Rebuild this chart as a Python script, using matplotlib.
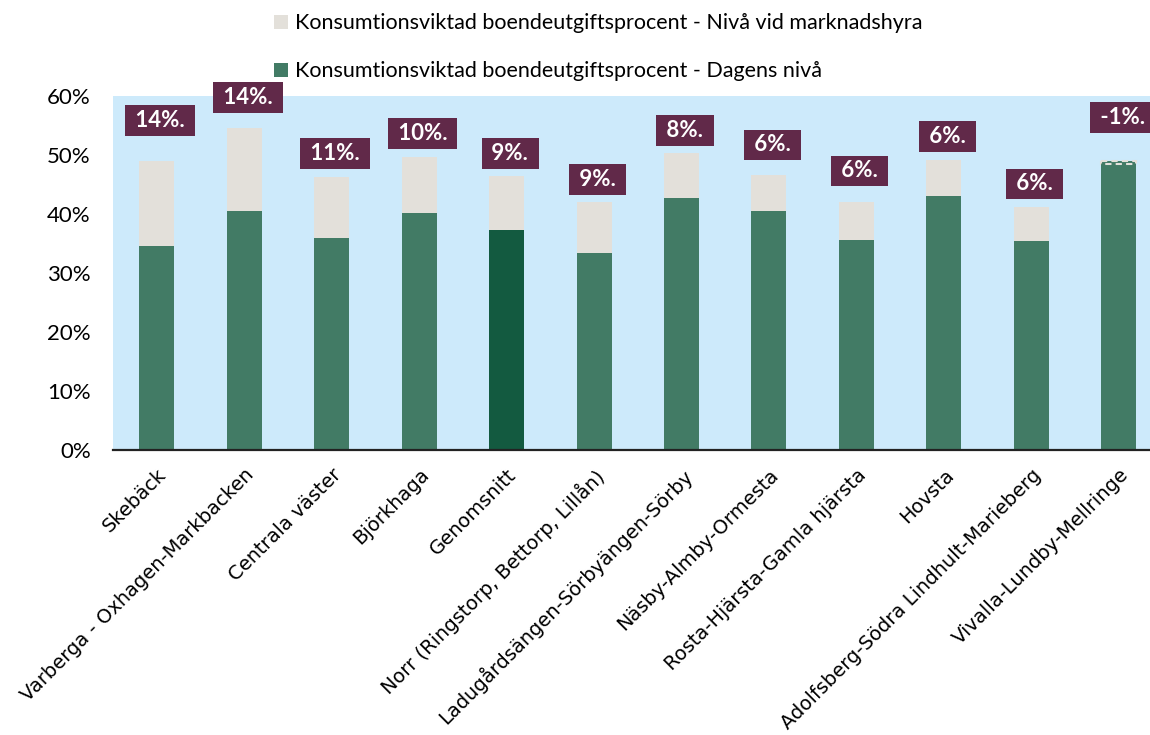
import matplotlib
matplotlib.use("Agg")
import matplotlib.pyplot as plt
from matplotlib.patches import Patch
import numpy as np

categories = ["Skebäck", "Varberga - Oxhagen-Markbacken", "Centrala väster", "Björkhaga",
              "Genomsnitt", "Norr (Ringstorp, Bettorp, Lillån)", "Ladugårdsängen-Sörbyängen-Sörby",
              "Näsby-Almby-Ormesta", "Rosta-Hjärsta-Gamla hjärsta", "Hovsta",
              "Adolfsberg-Södra Lindhult-Marieberg", "Vivalla-Lundby-Mellringe"]
current = [34.6, 40.5, 35.9, 40.2, 37.3, 33.4, 42.7, 40.5, 35.6, 43.1, 35.5, 48.9]
market = [48.9, 54.6, 46.3, 49.7, 46.4, 42.0, 50.4, 46.6, 42.1, 49.2, 41.2, 48.4]
diff_labels = ["14%.", "14%.", "11%.", "10%.", "9%.", "9%.", "8%.", "6%.", "6%.", "6%.", "6%.", "-1%."]
label_pos = [55.8, 59.7, 50.2, 53.6, 50.3, 45.9, 54.2, 51.7, 47.3, 53.1, 45.1, 56.4]
yticks = [0, 10, 20, 30, 40, 50, 60]
legend_labels = ["Konsumtionsviktad boendeutgiftsprocent - Nivå vid marknadshyra",
                 "Konsumtionsviktad boendeutgiftsprocent - Dagens nivå"]

GREEN = "#427B65"
DARK_GREEN = "#135A40"
BEIGE = "#E3E0DA"
PURPLE = "#612949"
BG = "#CDEAFB"

fig = plt.figure(figsize=(11.5, 7.35), dpi=100)
ax = fig.add_axes([113/1150, (735-450)/735, (1162.5-113)/1150, (450-96)/735])
ax.set_facecolor(BG)

x = np.arange(len(categories))
w = 0.4
cur = np.array(current)
mkt = np.array(market)
diff = mkt - cur

colors = [DARK_GREEN if c == "Genomsnitt" else GREEN for c in categories]
ax.bar(x, cur, width=w, color=colors, edgecolor="none", zorder=2)
for i in range(len(x)):
    if diff[i] >= 0:
        ax.bar(x[i], diff[i], bottom=cur[i], width=w, color=BEIGE, edgecolor="none", zorder=2)
    else:
        ax.bar(x[i], diff[i], bottom=cur[i], width=w, color=GREEN, edgecolor=BEIGE,
               linestyle=(0, (3, 2)), linewidth=1.5, zorder=3)

for i in range(len(x)):
    ax.text(x[i] + 0.04, label_pos[i], " " + diff_labels[i] + " ", ha="center", va="center",
            color="white", fontsize=16, fontweight="bold", family="Lato",
            bbox=dict(boxstyle="square,pad=0.22", facecolor=PURPLE, edgecolor="none"),
            zorder=5, clip_on=False)

ax.set_xlim(-0.5, len(x) - 0.5)
ax.set_ylim(0, 60)
ax.set_yticks(yticks)
ax.set_yticklabels([f"{t}%" for t in yticks])
for lbl in ax.get_yticklabels():
    lbl.set_fontfamily("Lato")
    lbl.set_fontsize(16)
ax.set_xticks(x)
ax.set_xticklabels(categories, rotation=45, ha="right", rotation_mode="anchor")
for lbl in ax.get_xticklabels():
    lbl.set_fontfamily("DejaVu Sans")
    lbl.set_fontsize(14)
ax.tick_params(axis="both", length=0)
ax.tick_params(axis="y", pad=16)
ax.tick_params(axis="x", pad=11)
for s in ["top", "right", "left"]:
    ax.spines[s].set_visible(False)
ax.spines["bottom"].set_color("#222222")
ax.spines["bottom"].set_linewidth(1.6)
ax.spines["bottom"].set_zorder(4)

handles = [Patch(facecolor=BEIGE, edgecolor="none"), Patch(facecolor=GREEN, edgecolor="none")]
fig.legend(handles, legend_labels, loc="upper left", bbox_to_anchor=(255/1150, 1 + 6/735),
           frameon=False, handlelength=0.65, handleheight=0.65, handletextpad=0.3,
           labelspacing=1.3, prop={"family": "Lato", "size": 15.5})

fig.savefig("out.png", dpi=100)
